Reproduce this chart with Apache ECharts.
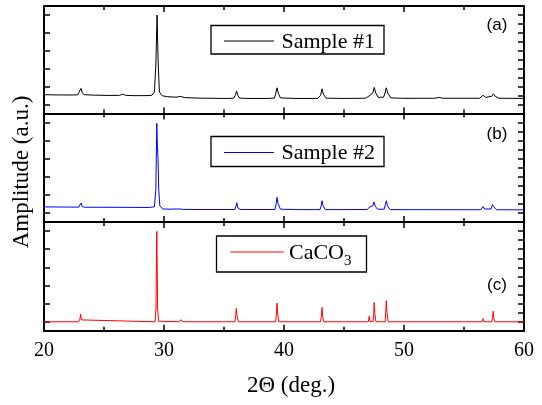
<!DOCTYPE html>
<html><head><meta charset="utf-8">
<script src="https://cdn.jsdelivr.net/npm/echarts@6/dist/echarts.min.js"></script>
<style>html,body{margin:0;padding:0;background:#fff}#c{width:542px;height:405px}</style>
</head><body><div id="c"></div>
<script>
// x range / ticks
const xMin = 20, xMax = 60, xStep = 10;
// Panel (a): Sample #1  [2theta, relative amplitude (% of panel height)]
const sample1 = [[20,17.5],[21,17.3],[22,17.2],[22.8,17.3],[22.95,19],[23.08,23.3],[23.2,19],[23.4,17.4],[24.5,17],[25.5,16.8],[26.3,16.9],[26.55,18],[26.8,16.9],[27.5,16.6],[28.5,16.6],[29.0,17],[29.2,20],[29.32,45],[29.42,91.6],[29.52,45],[29.62,20],[29.85,16.5],[30.3,15.6],[31.0,15.2],[31.4,15.9],[31.7,14.8],[33,14.3],[35,14.0],[35.8,14.2],[35.95,17],[36.05,21],[36.15,17],[36.3,14.3],[37,14],[38.5,14],[39.2,14.3],[39.32,19],[39.42,23.9],[39.52,19],[39.7,14.5],[41,14],[42.8,14],[43.05,17],[43.17,23],[43.28,18],[43.5,14.3],[45,14],[46.8,14.2],[47.1,16.4],[47.25,16],[47.4,19],[47.52,24.2],[47.65,19],[47.85,15],[48.3,15.2],[48.42,19],[48.52,23.9],[48.65,19],[48.9,14.5],[50,14.1],[52.6,14.2],[52.9,15],[53.2,14.2],[56.3,14.2],[56.6,17],[56.8,15],[57.3,16],[57.45,18.3],[57.6,16],[57.9,14.2],[60,14]];
// Panel (b): Sample #2
const sample2 = [[20,13.9],[21.5,13.8],[22.9,13.7],[23.0,15],[23.08,17.5],[23.18,14.5],[23.35,13.6],[25,13.6],[27,13.5],[28.8,13.4],[29.2,14],[29.32,30],[29.4,90.9],[29.45,70],[29.5,58.9],[29.56,30],[29.65,15],[29.9,12],[30.5,11.8],[30.85,12],[30.95,13.6],[31.1,12],[31.35,12],[31.45,13],[31.6,11.6],[33,11.5],[35.9,11.5],[36.0,14.5],[36.07,17.8],[36.16,13],[36.35,11.5],[39.25,11.5],[39.35,17],[39.42,22.7],[39.5,17],[39.7,11.8],[40.9,11.5],[41.05,12.2],[41.25,11.4],[43.0,11.4],[43.1,15],[43.17,19.6],[43.25,15],[43.45,11.4],[46.95,11.5],[47.1,13.6],[47.2,12.5],[47.4,15],[47.5,18.4],[47.6,14.5],[47.8,11.8],[48.35,11.8],[48.45,16],[48.53,19.6],[48.62,15],[48.85,11.4],[56.4,11.3],[56.57,14.2],[56.7,12],[57.25,12],[57.38,16],[57.48,14],[57.7,11.3],[60,11.2]];
// Panel (c): CaCO3 reference
const caco3 = [[20,8.3],[22.9,8.3],[23.0,11],[23.05,15.4],[23.12,10],[23.25,8.3],[29.25,8.3],[29.33,20],[29.4,91.4],[29.47,20],[29.55,8.8],[31.3,8.3],[31.42,10.2],[31.55,8.3],[35.9,8.3],[35.98,14],[36.02,20.6],[36.08,14],[36.2,8.3],[39.3,8.3],[39.37,16],[39.42,25.5],[39.48,15],[39.56,8.3],[43.05,8.3],[43.12,14],[43.17,21.5],[43.23,13],[43.32,8.3],[47.03,8.3],[47.1,13.4],[47.17,8.5],[47.43,8.5],[47.48,17],[47.52,26],[47.57,16],[47.66,8.3],[48.43,8.3],[48.48,18],[48.53,27.7],[48.58,17],[48.68,8.3],[56.5,8.3],[56.57,11.2],[56.65,8.3],[57.32,8.3],[57.39,13],[57.43,18],[57.48,12],[57.58,8.3],[57.95,8.3],[58.02,9.2],[58.1,8.3],[60,8.3]];
const seriesNames = ['Sample #1', 'Sample #2', 'CaCO3'];
const panelLabels = ['(a)', '(b)', '(c)'];
const xTitle = '2\u0398 (deg.)';
const yTitle = 'Amplitude (a.u.)';
const leftYTicks = [100/12, 300/12, 500/12, 700/12, 900/12, 1100/12];
const rightYTicks = [1,2,3,4,5,6,7,8,9,10,11].map(k => k*100/12);

const colors = ['#000000', '#0000ff', '#ff0000'];
const datasets = [sample1, sample2, caco3];
const panels = [{top: 6, height: 107.5}, {top: 113.5, height: 108.5}, {top: 222, height: 108.8}];
const serif = 'Liberation Serif';
const sans = 'Liberation Sans';

const grid = [], xAxis = [], yAxis = [], series = [];
panels.forEach((p, i) => {
  grid.push({left: 44, right: 18, top: p.top, height: p.height, containLabel: false});
  const xCommon = {
    type: 'value', gridIndex: i, min: xMin, max: xMax, interval: xStep,
    splitLine: {show: false},
    axisLine: {show: true, onZero: false, lineStyle: {color: '#000', width: 2}},
    axisTick: {show: true, inside: true, length: 6, lineStyle: {color: '#000', width: 1.5}},
    minorTick: {show: true, splitNumber: 2, length: 4, lineStyle: {color: '#000', width: 1.5}}
  };
  xAxis.push(Object.assign({}, xCommon, {
    position: 'bottom',
    axisLabel: {show: i === 2, color: '#000', fontFamily: serif, fontSize: 20, margin: 10},
    name: i === 2 ? xTitle : '', nameLocation: 'middle', nameGap: 44,
    nameTextStyle: {color: '#000', fontFamily: serif, fontSize: 23, padding: [0, 0, 0, 14]}
  }));
  xAxis.push(Object.assign({}, xCommon, {position: 'top', axisLabel: {show: false}}));
  const yCommon = {
    type: 'value', gridIndex: i, min: 0, max: 100,
    splitLine: {show: false}, axisLabel: {show: false},
    axisLine: {show: true, onZero: false, lineStyle: {color: '#000', width: 2}}
  };
  yAxis.push(Object.assign({}, yCommon, {position: 'left',
    axisTick: {show: true, inside: true, length: 6, customValues: leftYTicks, lineStyle: {color: '#000', width: 1.5}}}));
  yAxis.push(Object.assign({}, yCommon, {position: 'right',
    axisTick: {show: true, inside: true, length: 6, customValues: rightYTicks, lineStyle: {color: '#000', width: 1.5}}}));
  series.push({
    name: seriesNames[i], type: 'line', xAxisIndex: 2*i, yAxisIndex: 2*i,
    data: datasets[i], showSymbol: false, symbol: 'none',
    lineStyle: {color: colors[i], width: 1}, z: 3
  });
});

const legendBoxes = [
  {x: 211, y: 25.5, w: 173, h: 28.5, lx1: 224, lx2: 274, ly: 41, tx: 281.5},
  {x: 211, y: 136.5, w: 173, h: 30, lx1: 224, lx2: 274, ly: 152.5, tx: 281.5},
  {x: 216.5, y: 236, w: 150, h: 36, lx1: 230.5, lx2: 284, ly: 252, tx: 289}
];
const labelPos = [{x: 497, y: 25}, {x: 497, y: 134}, {x: 497, y: 285}];
const graphic = [];
legendBoxes.forEach((b, i) => {
  graphic.push({type: 'rect', shape: {x: b.x, y: b.y, width: b.w, height: b.h}, style: {fill: 'none', stroke: '#000', lineWidth: 1.3}, z: 10});
  graphic.push({type: 'line', shape: {x1: b.lx1, y1: b.ly, x2: b.lx2, y2: b.ly}, style: {stroke: colors[i], lineWidth: 1}, z: 10});
  if (i < 2) {
    graphic.push({type: 'text', x: b.tx, y: b.ly + 1, style: {text: seriesNames[i], fontFamily: serif, fontSize: 22, fill: '#000', textAlign: 'left', textVerticalAlign: 'middle'}, z: 10});
  } else {
    graphic.push({type: 'text', x: b.tx, y: b.ly - 10, style: {
      text: '{n|CaCO}{s|3}', textAlign: 'left', textVerticalAlign: 'top',
      rich: {
        n: {fontFamily: serif, fontSize: 22, lineHeight: 22, verticalAlign: 'top', fill: '#000'},
        s: {fontFamily: serif, fontSize: 15, lineHeight: 27, verticalAlign: 'bottom', fill: '#000'}
      }}, z: 10});
  }
  graphic.push({type: 'text', x: labelPos[i].x, y: labelPos[i].y, style: {text: panelLabels[i], fontFamily: sans, fontSize: 17, fill: '#000', textAlign: 'center', textVerticalAlign: 'middle'}, z: 10});
});
graphic.push({type: 'text', x: 22, y: 172, rotation: Math.PI / 2, style: {text: yTitle, fontFamily: serif, fontSize: 23, fill: '#000', textAlign: 'center', textVerticalAlign: 'middle'}, z: 10});

const chart = echarts.init(document.getElementById('c'), null, {renderer: 'canvas'});
chart.setOption({animation: false, backgroundColor: '#fff', grid, xAxis, yAxis, series, graphic});
</script>
</body></html>
